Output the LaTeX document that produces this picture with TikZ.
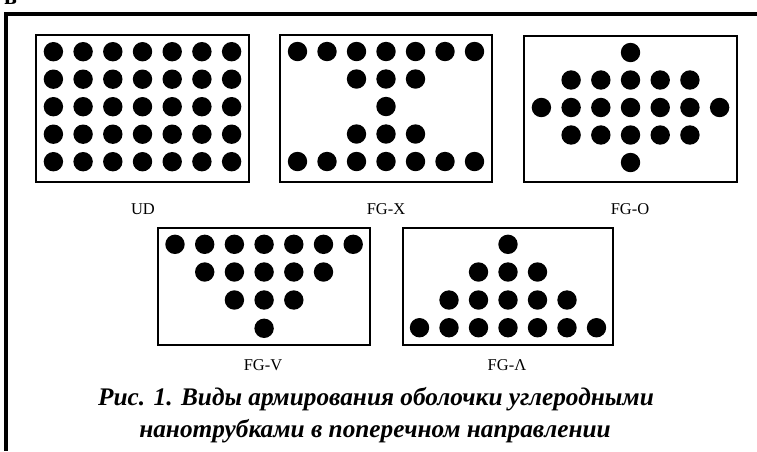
\documentclass[tikz,border=0pt]{standalone}
\usepackage{fontspec}
\setmainfont{Liberation Serif}
\begin{document}
\begin{tikzpicture}[x=1pt,y=-1pt,
  panel/.style={draw=black,line width=2pt},
  dot/.style={fill=black},
  lab/.style={font=\fontsize{16.5}{19}\selectfont,anchor=base},
  captxt/.style={font=\fontsize{25.3}{30}\selectfont\bfseries\itshape,anchor=base},
  frameline/.style={line width=4pt,line cap=butt}]
\useasboundingbox (0,0) rectangle (757,451);
% outer frame
\coordinate (fl1) at (6,12);
\coordinate (fl2) at (6,451);
\coordinate (ft1) at (4,14);
\coordinate (ft2) at (757,14);
\draw[frameline] (fl1) -- (fl2);
\draw[frameline] (ft1) -- (ft2);
\node[font=\fontsize{24}{28}\selectfont\bfseries,anchor=base west,inner sep=0pt] (prev) at (4,4) {в};
% panels
\node[panel,minimum width=213pt,minimum height=147pt,inner sep=0pt] (UD) at (142.5,108.5) {};
\node[panel,minimum width=212pt,minimum height=147pt,inner sep=0pt] (FGX) at (386,108.5) {};
\node[panel,minimum width=213pt,minimum height=146pt,inner sep=0pt] (FGO) at (630.5,108.5) {};
\node[panel,minimum width=212pt,minimum height=117pt,inner sep=0pt] (FGV) at (264,286.5) {};
\node[panel,minimum width=210pt,minimum height=117pt,inner sep=0pt] (FGL) at (507.7,286.5) {};
% UD dots
\foreach \r in {0,...,4}{\foreach \c in {0,...,6}{\fill[dot] (53.4+29.7*\c,51.7+27.5*\r) circle (9.7);}}
% FG-X dots
\foreach \c in {0,...,6}{\fill[dot] (297.5+29.5*\c,51.5) circle (9.7); \fill[dot] (297.5+29.5*\c,161.5) circle (9.7);}
\foreach \c in {2,3,4}{\fill[dot] (297.5+29.5*\c,79) circle (9.7); \fill[dot] (297.5+29.5*\c,134) circle (9.7);}
\fill[dot] (386,106.5) circle (9.7);
% FG-O dots
\fill[dot] (630.5,52.5) circle (9.7);
\foreach \c in {1,...,5}{\fill[dot] (541.4+29.7*\c,80) circle (9.7); \fill[dot] (541.4+29.7*\c,135) circle (9.7);}
\foreach \c in {0,...,6}{\fill[dot] (541.4+29.7*\c,107.5) circle (9.7);}
\fill[dot] (630.5,162.5) circle (9.7);
% FG-V dots
\foreach \c in {0,...,6}{\fill[dot] (175+29.7*\c,244.3) circle (9.7);}
\foreach \c in {1,...,5}{\fill[dot] (175+29.7*\c,272) circle (9.7);}
\foreach \c in {2,3,4}{\fill[dot] (175+29.7*\c,300) circle (9.7);}
\fill[dot] (264.1,328.3) circle (9.7);
% FG-Lambda dots
\fill[dot] (508,244.3) circle (9.7);
\foreach \c in {2,3,4}{\fill[dot] (419.5+29.5*\c,272) circle (9.7);}
\foreach \c in {1,...,5}{\fill[dot] (419.5+29.5*\c,300) circle (9.7);}
\foreach \c in {0,...,6}{\fill[dot] (419.5+29.5*\c,327.7) circle (9.7);}
% labels
\node[lab] (lUD) at (143,214) {UD};
\node[lab] (lFGX) at (386,214) {FG-X};
\node[lab] (lFGO) at (630,214) {FG-O};
\node[lab] (lFGV) at (263,370) {FG-V};
\node[lab] (lFGL) at (507,370) {FG-Λ};
% caption
\node[captxt] (c1) at (376,405) {Рис. 1. Виды армирования оболочки углеродными};
\node[captxt] (c2) at (375,437) {нанотрубками в поперечном направлении};
\end{tikzpicture}
\end{document}
